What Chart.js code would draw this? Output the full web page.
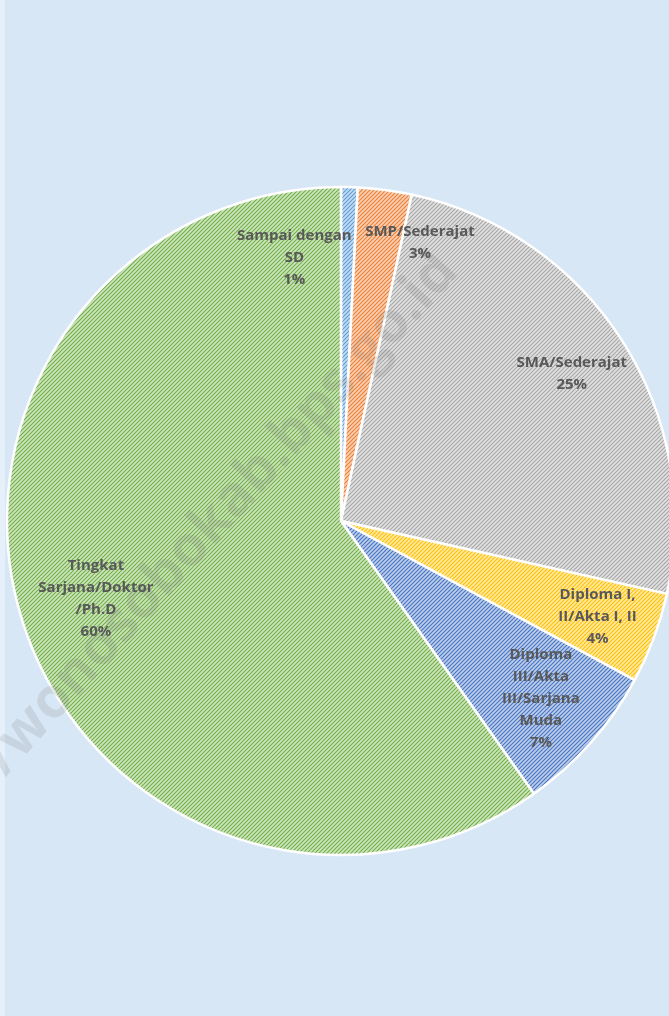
<!DOCTYPE html>
<html>
<head>
<meta charset="utf-8">
<script src="https://cdn.jsdelivr.net/npm/chart.js@4/dist/chart.umd.min.js"></script>
<style>
  html, body { margin: 0; padding: 0; overflow: hidden; background: #d8e7f6; }
  #wrap { position: absolute; left: 0; top: 0; width: 682px; height: 1016px; }
</style>
</head>
<body>
<div id="wrap"><canvas id="chart"></canvas></div>
<script>
// education level categories (wrapped as in the original labels)
const categories = [
  ["Sampai dengan", "SD"],
  ["SMP/Sederajat"],
  ["SMA/Sederajat"],
  ["Diploma I,", "II/Akta I, II"],
  ["Diploma", "III/Akta", "III/Sarjana", "Muda"],
  ["Tingkat", "Sarjana/Doktor", "/Ph.D"]
];
// share of each level, percent
const shares = [0.8, 2.6, 25.1, 4.4, 7.3, 59.8];

const baseColors = ["#c4dcf1", "#f9d0b4", "#e0e0e0", "#ffe8a0", "#bccde9", "#cde5bd"];
const stripeColors = ["#5b9bd5", "#ed7d31", "#a5a5a5", "#ffc000", "#4472c4", "#70ad47"];

// label placement: radius fraction and angle shift (degrees) from slice middle
const labelRadius = [0.8, 0.865, 0.82, 0.82, 0.8, 0.77];
const labelShift = [-11.5, 8.3, 0, 0, 0, 0];

function hatch(base, stripe) {
  const s = 4;
  const c = document.createElement("canvas");
  c.width = s;
  c.height = s;
  const x = c.getContext("2d");
  x.fillStyle = base;
  x.fillRect(0, 0, s, s);
  x.strokeStyle = stripe;
  x.lineWidth = 1.05;
  x.beginPath();
  x.moveTo(0, s); x.lineTo(s, 0);
  x.moveTo(-1, 1); x.lineTo(1, -1);
  x.moveTo(s - 1, s + 1); x.lineTo(s + 1, s - 1);
  x.stroke();
  return x.createPattern(c, "repeat");
}

const background = {
  id: "background",
  beforeDraw(chart) {
    const { ctx, width, height } = chart;
    ctx.save();
    ctx.fillStyle = "#d8e7f6";
    ctx.fillRect(0, 0, width, height);
    ctx.fillStyle = "#e6f0fa";
    ctx.fillRect(0, 0, 5, height);
    ctx.restore();
  }
};

const watermark = {
  id: "watermark",
  afterDatasetsDraw(chart) {
    const ctx = chart.ctx;
    ctx.save();
    ctx.translate(448, 262);
    ctx.rotate(-48 * Math.PI / 180);
    ctx.font = "bold 56px 'Open Sans', sans-serif";
    ctx.fillStyle = "rgba(120,120,120,0.17)";
    ctx.textAlign = "right";
    ctx.textBaseline = "middle";
    ctx.fillText("https://wonosobokab.bps.go.id", 0, 0);
    ctx.restore();
  }
};

const sliceLabels = {
  id: "sliceLabels",
  afterDraw(chart) {
    const ctx = chart.ctx;
    const meta = chart.getDatasetMeta(0);
    const total = shares.reduce((a, b) => a + b, 0);
    ctx.save();
    ctx.font = "bold 15px 'Open Sans', sans-serif";
    ctx.fillStyle = "#595959";
    ctx.textAlign = "center";
    ctx.textBaseline = "middle";
    meta.data.forEach((arc, i) => {
      const p = arc.getProps(["x", "y", "startAngle", "endAngle", "outerRadius"], true);
      const mid = (p.startAngle + p.endAngle) / 2 + labelShift[i] * Math.PI / 180;
      const r = p.outerRadius * labelRadius[i];
      const cx = p.x + Math.cos(mid) * r;
      const cy = p.y + Math.sin(mid) * r;
      const lines = categories[i].concat([Math.round(shares[i] / total * 100) + "%"]);
      const lh = 22;
      const top = cy - (lines.length - 1) * lh / 2;
      lines.forEach((t, k) => ctx.fillText(t, cx, top + k * lh));
    });
    ctx.restore();
  }
};

new Chart(document.getElementById("chart"), {
  type: "pie",
  data: {
    labels: categories,
    datasets: [{
      data: shares,
      backgroundColor: baseColors.map((b, i) => hatch(b, stripeColors[i])),
      borderColor: "#ffffff",
      borderWidth: 2.5,
      radius: 334
    }]
  },
  options: {
    responsive: true,
    maintainAspectRatio: false,
    animation: false,
    layout: { padding: { top: 26 } },
    plugins: {
      legend: { display: false },
      tooltip: { enabled: false }
    }
  },
  plugins: [background, watermark, sliceLabels]
});
</script>
</body>
</html>
